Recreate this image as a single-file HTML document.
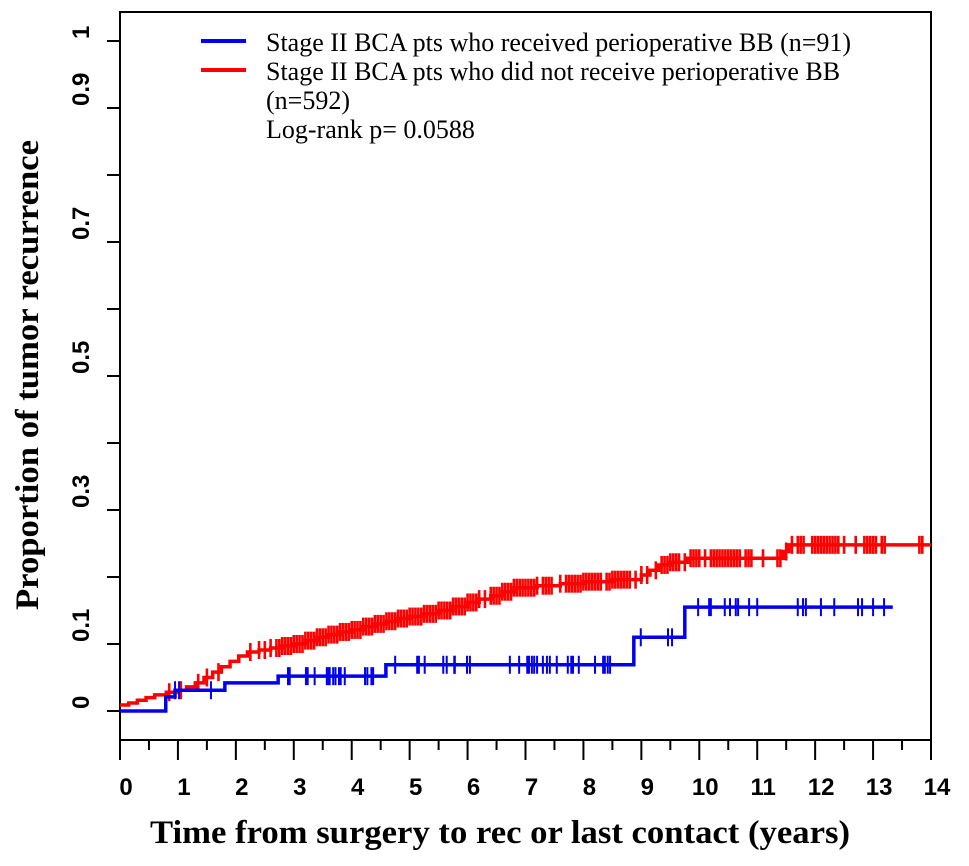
<!DOCTYPE html>
<html><head><meta charset="utf-8"><style>
body{margin:0;background:#fff}
svg{display:block}
</style></head><body>
<svg id="chart" width="969" height="866" xmlns="http://www.w3.org/2000/svg"></svg>
<script>
// Data
const xTicks=[0,1,2,3,4,5,6,7,8,9,10,11,12,13,14];
const yTicks=[0,0.1,0.2,0.3,0.4,0.5,0.6,0.7,0.8,0.9,1];
const yLabels=["0","0.1","","0.3","","0.5","","0.7","","0.9","1"];
const blueTimes=[0,0.79,0.95,1.81,2.73,4.59,8.87,9.75,13.34];
const blueVals=[0,0.021,0.031,0.042,0.052,0.069,0.110,0.155,0.155];
const blueCens=[0.95,1.02,1.57,2.90,2.93,3.21,3.24,3.36,3.57,3.60,3.62,3.68,3.72,3.78,3.81,3.88,4.23,4.27,4.34,4.37,4.75,5.13,5.16,5.26,5.58,5.64,5.77,5.78,5.99,6.04,6.73,6.89,7.03,7.06,7.11,7.15,7.20,7.30,7.37,7.42,7.54,7.73,7.79,7.82,7.92,8.20,8.34,8.37,8.42,8.46,8.99,9.46,9.53,9.98,10.17,10.20,10.44,10.53,10.63,10.67,10.86,11.0,11.70,11.79,11.84,12.1,12.33,12.74,12.81,13.0,13.19];
const redTimes=[0,0.15,0.3,0.45,0.6,0.8,1.0,1.15,1.3,1.45,1.6,1.75,1.9,2.05,2.2,2.4,2.6,2.8,3.0,3.2,3.4,3.6,3.8,4.0,4.2,4.4,4.6,4.8,5.0,5.25,5.5,5.75,6.0,6.2,6.4,6.6,6.8,7.2,7.6,8.0,8.5,9.0,9.15,9.3,9.5,9.8,11.45,11.55,14.0];
const redVals=[0.009,0.012,0.016,0.020,0.024,0.028,0.031,0.036,0.042,0.050,0.058,0.066,0.074,0.082,0.088,0.091,0.094,0.097,0.100,0.105,0.110,0.114,0.118,0.121,0.126,0.130,0.134,0.138,0.141,0.145,0.150,0.156,0.162,0.167,0.172,0.178,0.184,0.187,0.190,0.193,0.196,0.203,0.210,0.218,0.222,0.228,0.238,0.248,0.248];
const redCens=[0.85,1.05,1.35,1.5,1.7,2.25,2.4,2.5,2.6,2.7,2.75,2.8,2.85,2.9,2.95,3.0,3.05,3.1,3.15,3.2,3.25,3.3,3.35,3.4,3.45,3.5,3.55,3.6,3.65,3.7,3.75,3.8,3.85,3.9,3.95,4.0,4.05,4.1,4.15,4.2,4.25,4.3,4.35,4.4,4.45,4.5,4.55,4.6,4.65,4.7,4.75,4.8,4.85,4.9,4.95,5.0,5.05,5.1,5.15,5.2,5.25,5.3,5.35,5.4,5.45,5.5,5.55,5.6,5.65,5.7,5.75,5.8,5.85,5.9,5.95,6.0,6.05,6.1,6.15,6.2,6.3,6.4,6.45,6.5,6.55,6.6,6.65,6.7,6.75,6.8,6.85,6.9,6.95,7.0,7.05,7.1,7.15,7.2,7.3,7.35,7.4,7.45,7.6,7.7,7.75,7.8,7.85,7.9,7.95,8.0,8.05,8.1,8.15,8.2,8.25,8.3,8.4,8.45,8.5,8.55,8.6,8.65,8.7,8.75,8.8,8.9,9.0,9.1,9.25,9.35,9.4,9.45,9.5,9.55,9.6,9.65,9.75,9.85,9.9,9.95,10.0,10.1,10.2,10.25,10.3,10.35,10.4,10.45,10.5,10.55,10.6,10.65,10.7,10.8,10.85,10.9,11.1,11.35,11.4,11.5,11.6,11.7,11.75,11.8,11.95,12.0,12.05,12.1,12.15,12.2,12.25,12.3,12.35,12.4,12.5,12.7,12.85,12.9,12.95,13.0,13.05,13.15,13.2,13.8,13.85];
// Layout
const X0=120,X1=931,YT=12,YB=740;
const sx=t=>X0+(X1-X0)*t/14;
const sy=v=>711-v*670;
const svg=document.getElementById('chart');
const NS='http://www.w3.org/2000/svg';
function mk(tag,attrs,parent){const e=document.createElementNS(NS,tag);for(const k in attrs)e.setAttribute(k,attrs[k]);(parent||svg).appendChild(e);return e;}
const frame=mk('path',{d:`M${X0},${YT}H${X1}V${YB}H${X0}Z`,fill:'none',stroke:'#000','stroke-width':2});


const xg=mk('g',{});


xTicks.forEach(t=>{
  mk('line',{x1:sx(t),x2:sx(t),y1:YB,y2:YB+20,stroke:'#000','stroke-width':2},xg);
  if(t<14) mk('line',{x1:sx(t+0.5),x2:sx(t+0.5),y1:YB,y2:YB+10,stroke:'#000','stroke-width':2},xg);
  const tx=mk('text',{x:sx(t)+6,y:795,'text-anchor':'middle','font-family':'Liberation Sans, sans-serif','font-weight':'bold','font-size':24},xg);
  tx.textContent=t;
  
  
});
const yg=mk('g',{});


yTicks.forEach((v,i)=>{
  mk('line',{x1:X0-13,x2:X0,y1:sy(v),y2:sy(v),stroke:'#000','stroke-width':2},yg);
  if(yLabels[i]){
    const tx=mk('text',{x:0,y:0,transform:`translate(89,${sy(v)-2}) rotate(-90)`,'font-family':'Liberation Sans, sans-serif','font-weight':'bold','font-size':24},yg);
    tx.textContent=yLabels[i];
    
    
  }
});
function stepPath(ts,vs){let d=`M${sx(ts[0])},${sy(vs[0])}`;for(let i=1;i<ts.length;i++){d+=`H${sx(ts[i])}V${sy(vs[i])}`;}return d;}
function valAt(ts,vs,t){let v=vs[0];for(let i=0;i<ts.length;i++){if(ts[i]<=t)v=vs[i];}return v;}
function series(ts,vs,cens,color,name,cw){
  const g=mk('g',{});
  
  
  mk('path',{d:stepPath(ts,vs),fill:'none',stroke:color,'stroke-width':3.5},g);
  cens.forEach(t=>{const y=sy(valAt(ts,vs,t));const ln=mk('line',{x1:sx(t),x2:sx(t),y1:y-9,y2:y+9,stroke:color,'stroke-width':cw},g);
    
    });
}
series(redTimes,redVals,redCens,'#ff0000','red-series-no-bb',2.6);
series(blueTimes,blueVals,blueCens,'#0000ee','blue-series-bb',2);
// legend
const lg=mk('g',{});


mk('line',{x1:201,x2:246,y1:41,y2:41,stroke:'#0000ee','stroke-width':4},lg);
mk('line',{x1:201,x2:246,y1:70,y2:70,stroke:'#ff0000','stroke-width':4},lg);
["Stage II BCA pts who received perioperative BB (n=91)","Stage II BCA pts who did not receive perioperative BB","(n=592)","Log-rank p= 0.0588"].forEach((s,i)=>{
  const t=mk('text',{x:266,y:51+i*29,'font-family':'Liberation Serif, serif','font-size':26},lg);
  t.textContent=s;
  
  
});
const xt=mk('text',{x:500,y:843,'text-anchor':'middle','font-family':'Liberation Serif, serif','font-weight':'bold','font-size':33,textLength:700,lengthAdjust:'spacingAndGlyphs'});
xt.textContent='Time from surgery to rec or last contact (years)';


const yt=mk('text',{x:0,y:0,transform:'translate(38,375) rotate(-90)','text-anchor':'middle','font-family':'Liberation Serif, serif','font-weight':'bold','font-size':33,textLength:470,lengthAdjust:'spacingAndGlyphs'});
yt.textContent='Proportion of tumor recurrence';


</script>
</body></html>
